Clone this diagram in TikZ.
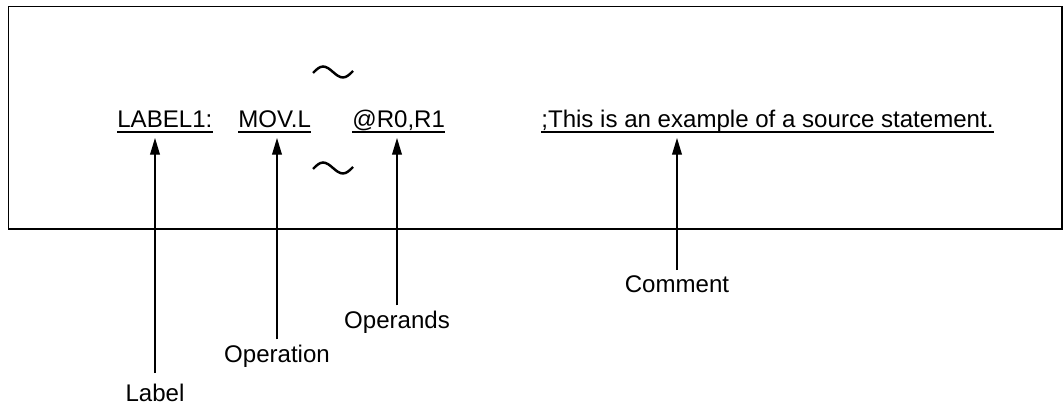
\documentclass[tikz,border=0pt]{standalone}
\usepackage{fontspec}
\setmainfont{Liberation Sans}
\usetikzlibrary{positioning,arrows.meta,calc}

\begin{document}
\begin{tikzpicture}[
    x=0.02cm, y=-0.02cm,
    field/.style={anchor=base west, inner sep=0pt, font=\fontsize{13.7}{16}\selectfont},
    part/.style={anchor=base, inner sep=3.3pt, font=\fontsize{13.7}{16}\selectfont},
    uline/.style={line width=0.7pt},
    >={Triangle[length=9.5pt,width=5.6pt]}
  ]
  \useasboundingbox (0,0) rectangle (1063,405);
  % frame of the statement
  \draw[line width=0.75pt] (8.5,6.5) rectangle (1062,229);

  % the source statement
  \node[field] (lbl) at (117,128) {LABEL1:};
  \node[field] (mov) at (238,128) {MOV.L};
  \node[field] (opd) at (352,128) {@R0,R1};
  \node[field] (cmt) at (541,128) {;This is an example of a source statement.};
  \foreach \n in {lbl,mov,opd,cmt}
    \draw[uline] ([yshift=-2.3pt]\n.base west) -- ([yshift=-2.3pt]\n.base east);

  % omitted lines
  \draw[line width=1.4pt] (313,73) sin (323,66.5) cos (333,72) sin (343,77.5) cos (353,71);
  \draw[line width=1.4pt] (313,169) sin (323,162.5) cos (333,168) sin (343,173.5) cos (353,167);

  % names of the fields
  \node[part] (lab) at (155,402) {Label};
  \node[part] (opn) at (277,363) {Operation};
  \node[part] (ops) at (397,329) {Operands};
  \node[part] (com) at (677,293) {Comment};

  \coordinate (tip) at (0,138);
  \draw[->, line width=0.6pt] ([yshift=3pt]lab.north) -- (lab.north |- tip);
  \draw[->, line width=0.6pt] (opn.north) -- (opn.north |- tip);
  \draw[->, line width=0.6pt] (ops.north) -- (ops.north |- tip);
  \draw[->, line width=0.6pt] (com.north) -- (com.north |- tip);
\end{tikzpicture}
\end{document}
